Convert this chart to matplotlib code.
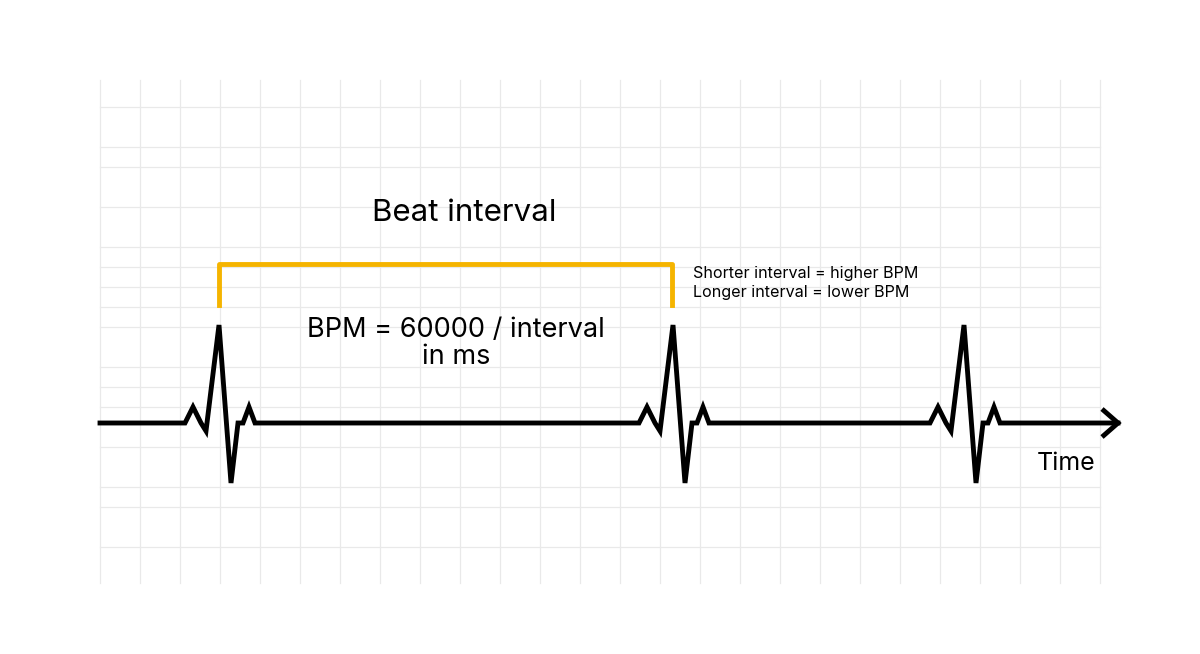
import matplotlib
matplotlib.use("Agg")
import matplotlib.pyplot as plt

beat_peaks = [219, 673, 964]
baseline = 423
# QRS shape: (dx from peak, y)
shape_dx = [-34, -26, -18, -13, 0, 12, 19, 24, 30, 36]
shape_y = [423, 407, 423, 431, 325, 483, 423, 423, 407, 423]
line_start, line_end = 100, 1118
vgrid = list(range(100, 1101, 40))
hgrid = [107, 147, 167, 207, 247, 267, 287, 307, 327, 367, 387, 407, 447, 487, 507, 547]

plt.rcParams['font.family'] = ['Inter', 'DejaVu Sans']
fig = plt.figure(figsize=(12, 6.54), dpi=100)
ax = fig.add_axes([0, 0, 1, 1])
ax.set_xlim(0, 1200); ax.set_ylim(654, 0); ax.axis("off")

for x in vgrid:
    ax.plot([x, x], [80, 583], color="#e9e9e9", lw=0.9, zorder=0)
for y in hgrid:
    ax.plot([100, 1100], [y, y], color="#e9e9e9", lw=0.9, zorder=0)

xs = [line_start]; ys = [baseline]
for p in beat_peaks:
    for dx, y in zip(shape_dx, shape_y):
        xs.append(p + dx); ys.append(y)
xs.append(line_end); ys.append(baseline)
ax.plot(xs, ys, color="black", lw=3.5, solid_joinstyle="miter", zorder=3)
ax.plot([1102, line_end, 1102], [409, 423, 437], color="black", lw=3.5,
        solid_joinstyle="miter", solid_capstyle="butt", zorder=3)

orange = "#F5B400"
ax.plot([219, 219, 672, 672], [305, 264, 264, 305], color=orange, lw=3.5, zorder=2)

ax.text(464, 213, "Beat interval", fontsize=22.5, ha="center", va="center")
ax.text(456, 343, "BPM = 60000 / interval\nin ms", fontsize=19.5, ha="center", va="center", linespacing=1.05)
ax.text(693, 283, "Shorter interval = higher BPM\nLonger interval = lower BPM", fontsize=11.6, ha="left", va="center", linespacing=1.35)
ax.text(1066, 464, "Time", fontsize=18, ha="center", va="center")

fig.savefig("out.png", dpi=100, facecolor="white")
